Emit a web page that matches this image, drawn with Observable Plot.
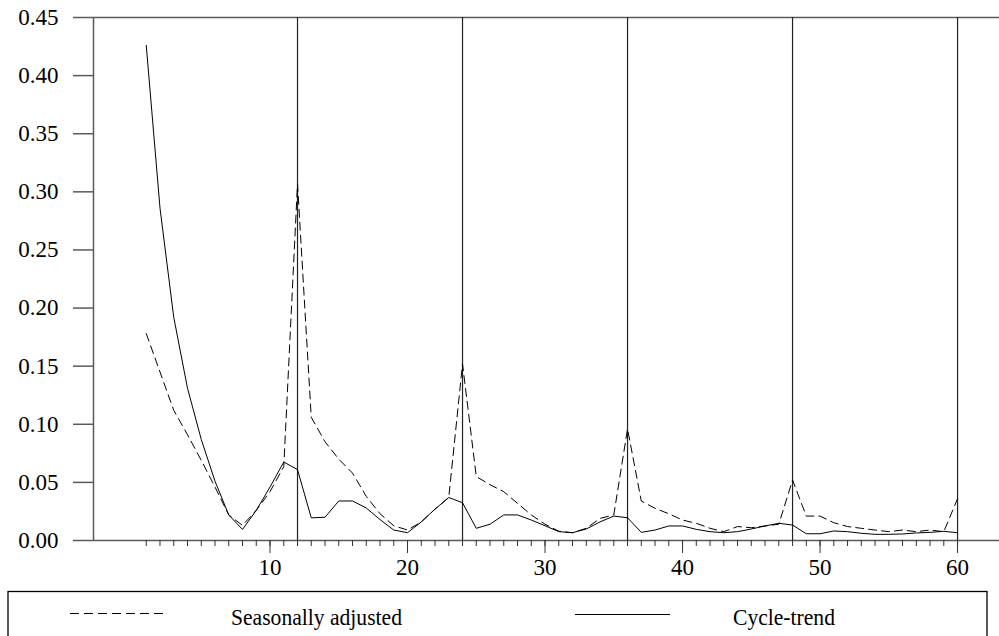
<!DOCTYPE html>
<html>
<head>
<meta charset="utf-8">
<script src="https://cdn.jsdelivr.net/npm/d3@7"></script>
<script src="https://cdn.jsdelivr.net/npm/@observablehq/plot@0.6"></script>
<style>
  html, body { margin: 0; padding: 0; background: #fff; }
  #wrap { position: relative; width: 999px; height: 636px; overflow: hidden; }
  #legend { position: absolute; left: 0; top: 0; }
</style>
</head>
<body>
<div id="wrap"></div>
<script>
// Spectrum of the seasonally adjusted series and its cycle-trend, by frequency index
const months = d3.range(1, 61);
const seasonallyAdjusted = [
  0.178, 0.145, 0.112, 0.091, 0.069, 0.046, 0.022, 0.013, 0.026, 0.042,
  0.0635, 0.307, 0.106, 0.085, 0.070, 0.058, 0.038, 0.023, 0.0127, 0.009,
  0.016, 0.027, 0.037, 0.152, 0.055, 0.048, 0.042, 0.032, 0.022, 0.014,
  0.008, 0.0067, 0.0105, 0.019, 0.022, 0.096, 0.034, 0.0277, 0.023, 0.0176,
  0.0148, 0.0105, 0.0076, 0.012, 0.011, 0.0125, 0.014, 0.052, 0.021, 0.021,
  0.0153, 0.012, 0.0105, 0.009, 0.0076, 0.009, 0.0076, 0.009, 0.0076, 0.036
];
const cycleTrend = [
  0.426, 0.286, 0.192, 0.131, 0.087, 0.051, 0.022, 0.0095, 0.026, 0.046,
  0.0675, 0.061, 0.0195, 0.020, 0.034, 0.034, 0.028, 0.018, 0.009, 0.0067,
  0.016, 0.027, 0.037, 0.0325, 0.0105, 0.014, 0.022, 0.022, 0.0176, 0.0127,
  0.0076, 0.0067, 0.0099, 0.016, 0.021, 0.0196, 0.007, 0.009, 0.0125, 0.0125,
  0.0096, 0.0076, 0.0067, 0.0076, 0.0099, 0.0125, 0.0148, 0.0133, 0.0058, 0.0058,
  0.0082, 0.0076, 0.0062, 0.0053, 0.0053, 0.0056, 0.0065, 0.007, 0.0079, 0.0067
];
const seasonalLags = [12, 24, 36, 48, 60];
const xLabelTicks = [10, 20, 30, 40, 50, 60];
const yTicks = [0, 0.05, 0.10, 0.15, 0.20, 0.25, 0.30, 0.35, 0.40, 0.45];
const seriesNames = ["Seasonally adjusted", "Cycle-trend"];

const xDomain = [-2.836, 63.05];
const yDomain = [0, 0.45];

const rows = months.map((m, i) => ({m, sa: seasonallyAdjusted[i], ct: cycleTrend[i]}));

const axisGray = "#5a5a5a";
const serifFont = '"Liberation Serif", Tinos, "Times New Roman", Times, "Nimbus Roman", "Nimbus Roman No9 L", "Noto Serif", "FreeSerif", "DejaVu Serif", serif';

const chart = Plot.plot({
  width: 999,
  height: 585,
  marginLeft: 93,
  marginRight: 0,
  marginTop: 17,
  marginBottom: 45,
  x: {domain: xDomain},
  y: {domain: yDomain},
  style: {fontFamily: serifFont, fontSize: "23px", color: "#000", background: "#fff", overflow: "visible"},
  marks: [
    Plot.ruleY([yDomain[1]], {stroke: axisGray, strokeWidth: 1.5}),
    Plot.ruleY([yDomain[0]], {stroke: axisGray, strokeWidth: 1.5}),
    Plot.ruleX([xDomain[0]], {stroke: axisGray, strokeWidth: 1.5}),
    Plot.ruleX(seasonalLags, {stroke: "#222", strokeWidth: 1.2}),
    Plot.axisY({ticks: yTicks, tickSize: 20, tickPadding: 15, tickFormat: d3.format(".2f"), label: null, stroke: axisGray, strokeWidth: 1.5, fill: "#000"}),
    Plot.axisX({ticks: months, tickSize: 6, tickFormat: () => "", label: null, stroke: "#333"}),
    Plot.axisX({ticks: xLabelTicks, tickSize: 13, tickPadding: 5, tickFormat: d3.format("d"), label: null, stroke: "#333", fill: "#000"}),
    Plot.line(rows, {x: "m", y: "sa", stroke: "#000", strokeWidth: 1, strokeDasharray: "8,5"}),
    Plot.line(rows, {x: "m", y: "ct", stroke: "#000", strokeWidth: 1})
  ]
});

const wrap = document.getElementById("wrap");
wrap.appendChild(chart);

// Legend box beneath the chart
const leg = d3.create("svg")
  .attr("id", "legend")
  .attr("width", 999)
  .attr("height", 636)
  .style("pointer-events", "none");
leg.append("rect")
  .attr("x", 8).attr("y", 591.5).attr("width", 979).attr("height", 80)
  .attr("fill", "none").attr("stroke", "#000").attr("stroke-width", 1.3);
const items = [
  {name: seriesNames[0], x1: 70, x2: 167, y: 613.5, dash: "9,5", tx: 231},
  {name: seriesNames[1], x1: 575, x2: 670, y: 614.5, dash: null, tx: 733}
];
for (const it of items) {
  const ln = leg.append("line")
    .attr("x1", it.x1).attr("x2", it.x2).attr("y1", it.y).attr("y2", it.y)
    .attr("stroke", "#000").attr("stroke-width", 1);
  if (it.dash) ln.attr("stroke-dasharray", it.dash);
  leg.append("text")
    .attr("transform", `translate(${it.tx},625) scale(0.9,1)`)
    .style("font-family", serifFont)
    .attr("font-size", 24)
    .attr("fill", "#000")
    .text(it.name);
}
wrap.appendChild(leg.node());
</script>
</body>
</html>
